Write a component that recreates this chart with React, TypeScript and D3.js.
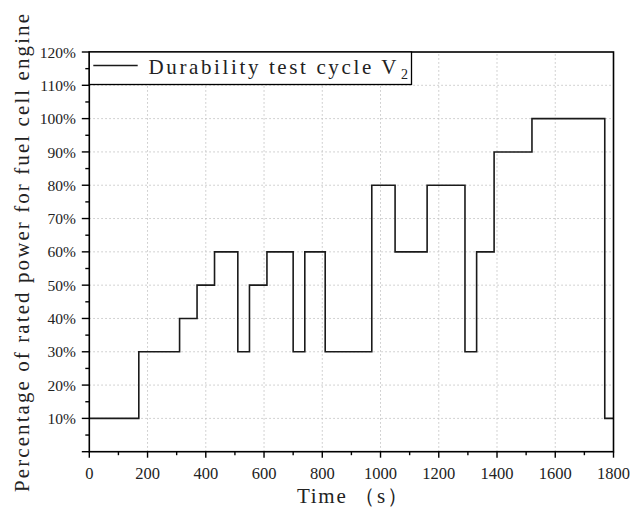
import React from "react";
import * as d3 from "d3";

// Step profile: segment start times (s) and power levels (%)
const segmentStarts = [0, 170, 310, 370, 430, 510, 550, 610, 700, 740, 810, 970, 1050, 1160, 1290, 1330, 1390, 1520, 1770];
const segmentLevels = [10, 30, 40, 50, 60, 30, 50, 60, 30, 60, 30, 80, 60, 80, 30, 60, 90, 100, 10];
const endTime = 1800;

const xMajorTicks = [0, 200, 400, 600, 800, 1000, 1200, 1400, 1600, 1800];
const xMinorTicks = [100, 300, 500, 700, 900, 1100, 1300, 1500, 1700];
const yMajorTicks = [0, 10, 20, 30, 40, 50, 60, 70, 80, 90, 100, 110, 120];
const yMinorTicks = [5, 15, 25, 35, 45, 55, 65, 75, 85, 95, 105, 115];
const yTickLabels = ["", "10%", "20%", "30%", "40%", "50%", "60%", "70%", "80%", "90%", "100%", "110%", "120%"];

const legendLabel = "Durability test cycle V";
const legendSub = "2";
const xTitle = "Time （s）";
const yTitle = "Percentage of rated power for fuel cell engine";

export default function App() {
  const W = 632, H = 508;
  const L = 89.3, R = 613.5, T = 52, B = 451.7;
  const x = d3.scaleLinear().domain([0, 1800]).range([L, R]);
  const y = d3.scaleLinear().domain([0, 120]).range([B, T]);

  const pts: [number, number][] = segmentStarts.map((s, i) => [s, segmentLevels[i]]);
  pts.push([endTime, segmentLevels[segmentLevels.length - 1]]);
  const line = d3.line<[number, number]>().x(d => x(d[0])).y(d => y(d[1])).curve(d3.curveStepAfter);

  const SERIF = "Liberation Serif";

  return (
    <svg width={W} height={H} style={{ position: "absolute", left: 0, top: 0, background: "#fff" }}>
      <rect x={0} y={0} width={W} height={H} fill="#fff" />
      {/* grid */}
      <g stroke="#c4c4c4" strokeWidth={1} strokeDasharray="1.5,2.5">
        {xMajorTicks.filter(t => t > 0 && t < 1800).map(t => (
          <line key={"gx" + t} x1={x(t)} x2={x(t)} y1={B} y2={T} />
        ))}
        {yMajorTicks.filter(t => t > 0 && t < 120).map(t => (
          <line key={"gy" + t} x1={L} x2={R} y1={y(t)} y2={y(t)} />
        ))}
      </g>
      {/* data */}
      <path d={line(pts) || ""} fill="none" stroke="#1a1a1a" strokeWidth={1.6} />
      {/* frame */}
      <rect x={L} y={T} width={R - L} height={B - T} fill="none" stroke="#000" strokeWidth={1.6} />
      {/* ticks */}
      <g stroke="#000" strokeWidth={1.4}>
        {yMajorTicks.map(t => (
          <line key={"yt" + t} x1={L - 7.5} x2={L} y1={y(t)} y2={y(t)} />
        ))}
        {yMinorTicks.map(t => (
          <line key={"ym" + t} x1={L - 4} x2={L} y1={y(t)} y2={y(t)} />
        ))}
        {xMajorTicks.map(t => (
          <line key={"xt" + t} x1={x(t)} x2={x(t)} y1={B} y2={B + 6} />
        ))}
        {xMinorTicks.map(t => (
          <line key={"xm" + t} x1={x(t)} x2={x(t)} y1={B} y2={B + 3.5} />
        ))}
      </g>
      {/* tick labels */}
      {yMajorTicks.map((t, i) => (
        <text key={"yl" + t} fontFamily={SERIF} fontSize={15.5} fill="#222" x={L - 13.5} y={y(t)} dy="0.36em" textAnchor="end">{yTickLabels[i]}</text>
      ))}
      {xMajorTicks.map(t => (
        <text key={"xl" + t} fontFamily={SERIF} fontSize={16.5} fill="#222" x={x(t)} y={479} textAnchor="middle">{t}</text>
      ))}
      {/* legend */}
      <rect x={L} y={T} width={411.5 - L} height={84.5 - T} fill="#fff" stroke="#000" strokeWidth={1.3} />
      <line x1={93.3} x2={137.7} y1={65.5} y2={65.5} stroke="#1a1a1a" strokeWidth={1.6} />
      <text x={148.5} y={73.5} fontFamily={SERIF} fontSize={21} fill="#222" textLength={248} lengthAdjust="spacing">{legendLabel}</text>
      <text x={401} y={79} fontFamily={SERIF} fontSize={14} fill="#222">{legendSub}</text>
      {/* axis titles */}
      <text x={352.5} y={503} textAnchor="middle" fontFamily={SERIF} fontSize={21} fill="#222" textLength={111} lengthAdjust="spacing">{xTitle}</text>
      <text transform={`translate(29,253) rotate(-90)`} textAnchor="middle" fontFamily={SERIF} fontSize={21} fill="#222" textLength={478} lengthAdjust="spacing">{yTitle}</text>
    </svg>
  );
}
